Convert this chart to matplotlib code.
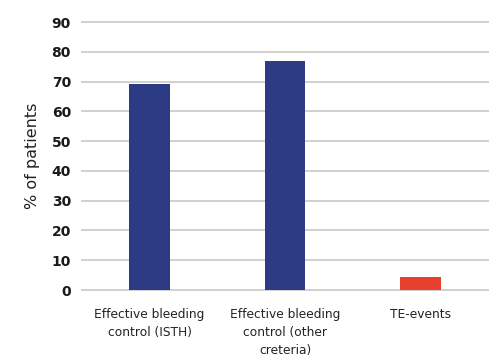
import matplotlib
matplotlib.use("Agg")
from matplotlib import pyplot as plt

categories = ["Effective bleeding\ncontrol (ISTH)",
              "Effective bleeding\ncontrol (other\ncreteria)",
              "TE-events"]
values = [69.2, 76.8, 4.5]
bar_colors = ["#2d3a84", "#2d3a84", "#e8402f"]
yticks = [0, 10, 20, 30, 40, 50, 60, 70, 80, 90]

plt.rcParams['font.family'] = ['DejaVu Sans']

fig = plt.figure(figsize=(5.01, 3.6), dpi=100)
ax = fig.add_axes([82 / 501, 70 / 360, 406 / 501, 268 / 360])

x = range(len(categories))
ax.bar(x, values, width=0.3, color=bar_colors, zorder=3)

ax.set_xlim(-0.5, 2.5)
ax.set_ylim(0, 90)
ax.set_yticks(yticks)
ax.set_yticklabels([str(t) for t in yticks], fontsize=10, fontweight='semibold', color='#1a1a1a')
ax.set_xticks(list(x))
ax.set_xticklabels(categories, fontsize=8.8, color='#222222', linespacing=1.5, va='top')
ax.tick_params(axis='both', length=0)
ax.tick_params(axis='y', pad=8)
ax.tick_params(axis='x', pad=13)

for t in yticks:
    ax.axhline(t, color='#d0d0d0', linewidth=1.4, zorder=1, clip_on=False)

for s in ax.spines.values():
    s.set_visible(False)

ax.set_ylabel("% of patients", fontsize=11.5, color='#222222', labelpad=8)

fig.savefig("out.png", dpi=100)
